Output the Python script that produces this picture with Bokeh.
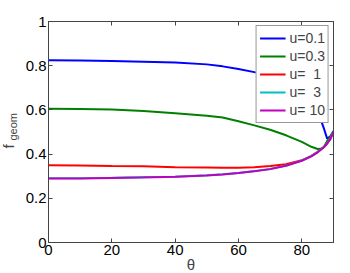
from bokeh.plotting import figure
from bokeh.models import Range1d, FixedTicker, LinearAxis, Legend, LegendItem, Title
from bokeh.embed import file_html
from bokeh.resources import INLINE

theta = [0, 10, 20, 30, 40, 50, 55, 60, 65, 70, 75, 80, 83, 85, 86, 87, 88, 89, 90]
f_u01 = [0.825, 0.823, 0.821, 0.818, 0.814, 0.806, 0.797, 0.785, 0.771, 0.752, 0.728, 0.690, 0.645, 0.590, 0.555, 0.515, 0.470, 0.480, 0.505]
f_u03 = [0.605, 0.604, 0.602, 0.595, 0.585, 0.574, 0.566, 0.549, 0.530, 0.510, 0.485, 0.455, 0.433, 0.423, 0.424, 0.432, 0.460, 0.478, 0.500]
f_u1 = [0.350, 0.348, 0.346, 0.345, 0.341, 0.339, 0.338, 0.338, 0.340, 0.346, 0.354, 0.372, 0.392, 0.410, 0.422, 0.432, 0.448, 0.468, 0.500]
f_u3 = [0.291, 0.291, 0.293, 0.296, 0.298, 0.304, 0.309, 0.315, 0.323, 0.333, 0.348, 0.371, 0.391, 0.409, 0.421, 0.433, 0.449, 0.469, 0.500]
f_u10 = [0.290, 0.290, 0.292, 0.294, 0.297, 0.303, 0.308, 0.314, 0.322, 0.332, 0.347, 0.370, 0.390, 0.408, 0.420, 0.432, 0.448, 0.468, 0.500]

series_names = ["u=0.1", "u=0.3", "u=  1", "u=  3", "u= 10"]
series_values = [f_u01, f_u03, f_u1, f_u3, f_u10]
series_colors = ["#0000ff", "#008000", "#ff0000", "#00bfbf", "#bf00bf"]

x_ticks = [0, 20, 40, 60, 80]
y_ticks = [0, 0.2, 0.4, 0.6, 0.8, 1]

FONT = "Liberation Sans"
AX = "#444444"

p = figure(width=342, height=273, output_backend="svg", toolbar_location=None,
           x_range=Range1d(0, 90), y_range=Range1d(0, 1),
           min_border_left=48, min_border_right=9, min_border_top=21, min_border_bottom=31)
p.grid.visible = False
p.background_fill_color = "white"
p.border_fill_color = "white"
p.outline_line_color = AX
p.outline_line_width = 1

def style(ax, ticks, show_labels):
    ax.ticker = FixedTicker(ticks=ticks)
    ax.minor_tick_line_color = None
    ax.major_tick_in = 4
    ax.major_tick_out = 0
    ax.major_tick_line_color = AX
    ax.axis_line_color = AX
    ax.major_label_text_font = FONT
    ax.major_label_text_color = "black"
    if show_labels:
        ax.major_label_text_font_size = "15px"
        ax.major_label_standoff = 2
    else:
        ax.major_label_text_color = None
        ax.major_label_text_font_size = "1px"
        ax.major_label_standoff = 0

style(p.xaxis[0], x_ticks, True)
style(p.yaxis[0], y_ticks, True)
p.yaxis[0].major_label_overrides = {0: "0", 1: "1"}

top = LinearAxis()
style(top, x_ticks, False)
p.add_layout(top, "above")
right = LinearAxis()
style(right, y_ticks, False)
p.add_layout(right, "right")

# x label below the axis
p.add_layout(Title(text="θ", align="center", vertical_align="bottom", standoff=-7,
                   text_font=FONT, text_font_size="15px", text_font_style="normal"), "below")
# y label: f with subscript geom
p.add_layout(Title(text="geom", align="left", offset=102, vertical_align="bottom", standoff=8,
                   text_font=FONT, text_font_size="11px", text_font_style="normal"), "left")
p.add_layout(Title(text="f", align="left", offset=94, vertical_align="bottom", standoff=-32,
                   text_font=FONT, text_font_size="15px", text_font_style="normal"), "left")

items = []
for name, vals, col in zip(series_names, series_values, series_colors):
    r = p.line(theta, vals, line_color=col, line_width=2)
    items.append(LegendItem(label=name, renderers=[r]))

legend = Legend(items=items, location="top_right", margin=4, padding=3, spacing=0,
                label_height=18, glyph_height=18, glyph_width=26, label_standoff=4,
                label_text_font=FONT, label_text_font_size="14px",
                border_line_color="#333333", border_line_width=1,
                background_fill_color="white", background_fill_alpha=1)
p.add_layout(legend)

open("out.html", "w").write(file_html(p, INLINE))
